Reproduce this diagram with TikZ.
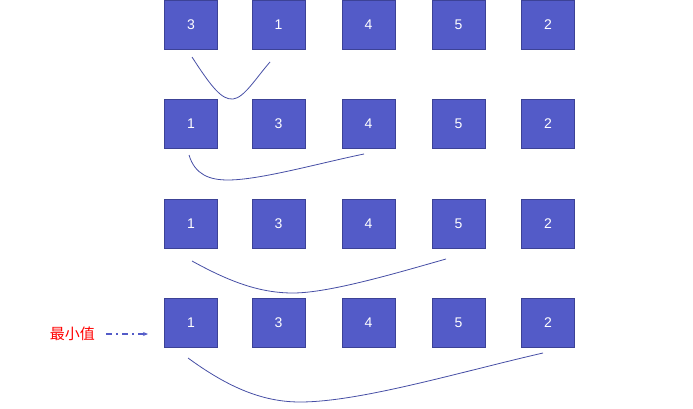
\documentclass[tikz,border=0pt]{standalone}
\usepackage{fontspec}
\setmainfont{Liberation Sans}
\newfontfamily\cjk{Noto Sans CJK SC}
\usetikzlibrary{arrows.meta}
\definecolor{boxfill}{RGB}{83,91,200}
\definecolor{boxline}{RGB}{60,66,150}
\definecolor{curve}{RGB}{70,78,165}
\definecolor{arrowc}{RGB}{83,91,200}
\begin{document}
\begin{tikzpicture}[x=1pt,y=-1pt,
  cell/.style={draw=boxline,line width=0.9pt,fill=boxfill,minimum width=53pt,minimum height=49pt,inner sep=0pt,text=white,font=\fontsize{14}{14}\selectfont},
  swapcurve/.style={draw=curve,line width=0.8pt}]
\useasboundingbox (0,0) rectangle (693,409);
\foreach \r/\y/\a/\b/\c/\d/\e in {1/24.5/3/1/4/5/2, 2/124/1/3/4/5/2, 3/224/1/3/4/5/2, 4/323/1/3/4/5/2}{
  \node[cell] (r\r c1) at (191,\y) {\a};
  \node[cell] (r\r c2) at (278.5,\y) {\b};
  \node[cell] (r\r c3) at (368.5,\y) {\c};
  \node[cell] (r\r c4) at (458.5,\y) {\d};
  \node[cell] (r\r c5) at (548,\y) {\e};
}
\draw[swapcurve] (192,57) .. controls (212,88) and (222,100) .. (233,99) .. controls (244,98) and (256,78) .. (270,62);
\draw[swapcurve] (189,155) .. controls (195,175) and (210,180) .. (228,180) .. controls (260,180) and (320,163) .. (364,154);
\draw[swapcurve] (192,261) .. controls (230,282) and (260,293) .. (293,293) .. controls (330,293) and (400,272) .. (446,259);
\draw[swapcurve] (188,358) .. controls (225,385) and (260,402) .. (300,402) .. controls (360,402) and (460,372) .. (543,353);
\node[text=red,font=\cjk\fontsize{15}{15}\selectfont,anchor=east,inner sep=0pt] (minlab) at (95,334) {最小值};
\coordinate (arrEnd) at (148,334);
\draw[arrowc,line width=1.2pt,dash pattern=on 6pt off 4pt on 2pt off 4pt,-{Stealth[length=5pt,width=4pt]}] (106,334) -- (arrEnd);
\end{tikzpicture}
\end{document}
